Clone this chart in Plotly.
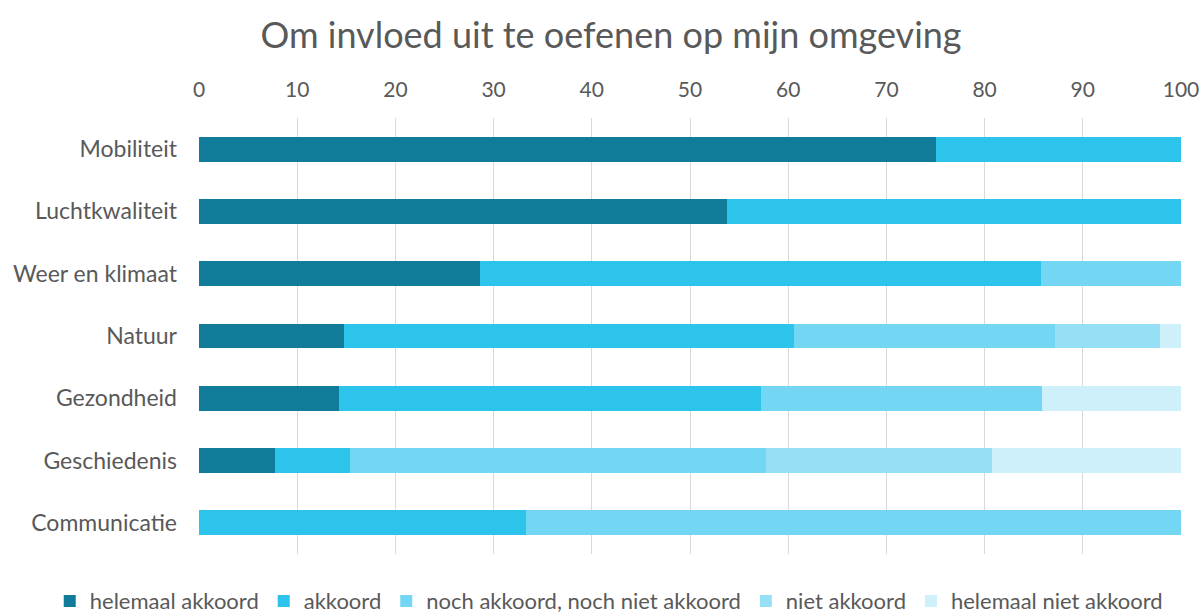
import plotly.graph_objects as go

categories = ["Mobiliteit", "Luchtkwaliteit", "Weer en klimaat", "Natuur",
              "Gezondheid", "Geschiedenis", "Communicatie"]
series_names = ["helemaal akkoord", "akkoord", "noch akkoord, noch niet akkoord",
                "niet akkoord", "helemaal niet akkoord"]
helemaal_akkoord = [75.0, 53.8, 28.6, 14.8, 14.3, 7.7, 0.0]
akkoord = [25.0, 46.2, 57.1, 45.8, 42.9, 7.7, 33.3]
noch = [0.0, 0.0, 14.3, 26.6, 28.6, 42.3, 66.7]
niet_akkoord = [0.0, 0.0, 0.0, 10.7, 0.0, 23.1, 0.0]
helemaal_niet = [0.0, 0.0, 0.0, 2.1, 14.3, 19.2, 0.0]
colors = ["#107C9A", "#2CC4EB", "#73D7F4", "#96E0F5", "#CDF0FA"]
x_ticks = [0, 10, 20, 30, 40, 50, 60, 70, 80, 90, 100]

all_series = [helemaal_akkoord, akkoord, noch, niet_akkoord, helemaal_niet]

FONT = "Lato"
TXT = "#595959"

fig = go.Figure()
for name, vals, col in zip(series_names, all_series, colors):
    fig.add_trace(go.Bar(
        y=categories, x=vals, name=name, orientation="h",
        marker=dict(color=col, line=dict(width=0)),
        width=0.4,
    ))

fig.update_layout(
    barmode="stack",
    width=1204, height=616,
    paper_bgcolor="white", plot_bgcolor="white",
    margin=dict(l=199, r=23, t=118, b=62, autoexpand=False),
    font=dict(family=FONT, color=TXT, size=20),
    title=dict(text="Om invloed uit te oefenen op mijn omgeving",
               x=0.5075, xanchor="center", y=1 - 35 / 616, yanchor="middle",
               yref="container",
               font=dict(size=36, color=TXT, family=FONT)),
    xaxis=dict(range=[0, 100], side="top", tickvals=x_ticks,
               showgrid=True, gridcolor="#D9D9D9", gridwidth=1,
               zeroline=False, showline=False, ticks="",
               ticklabelstandoff=16, automargin=False,
               tickfont=dict(size=21, color=TXT)),
    yaxis=dict(autorange="reversed", showgrid=False, zeroline=False,
               showline=False, ticks="", ticklabelstandoff=21,
               automargin=False,
               tickfont=dict(size=23, color=TXT)),
    legend=dict(orientation="h", x=-0.152, xanchor="left",
                y=-0.108, yanchor="middle",
                font=dict(size=22, color=TXT),
                traceorder="normal", itemwidth=30,
                tracegroupgap=0),
    bargap=0.6,
)

fig.write_html("out.html",
               config={"displayModeBar": False},
               post_script="document.body.style.margin='0px';"
                           "document.body.style.overflow='hidden';")
